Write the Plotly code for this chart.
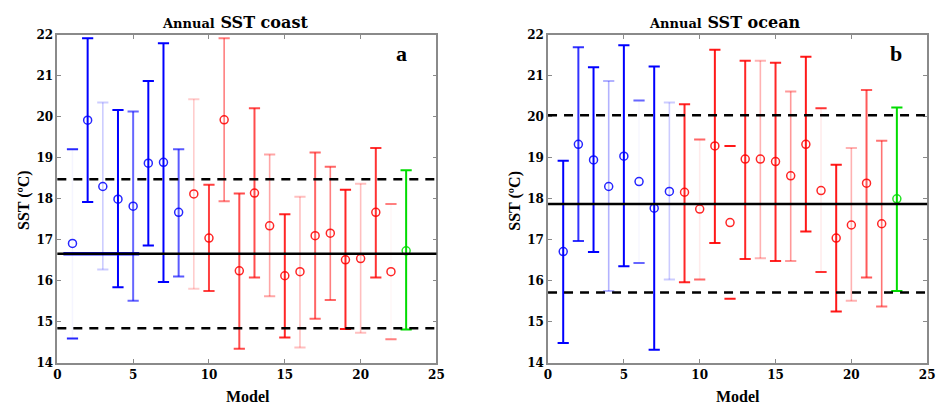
import plotly.graph_objects as go

models = list(range(1, 24))
group = ["blue"] * 8 + ["red"] * 14 + ["green"]

# ---- panel a: coast ----
coast_mean = [16.91, 19.92, 18.30, 17.99, 17.82, 18.87, 18.89, 17.67, 18.12, 17.04,
              19.93, 16.24, 18.14, 17.34, 16.12, 16.22, 17.10, 17.16, 16.51, 16.54,
              17.67, 16.22, 16.73]
coast_hi = [19.21, 21.92, 20.35, 20.17, 20.13, 20.88, 21.80, 19.21, 20.43, 18.34,
            21.92, 18.13, 20.21, 19.08, 17.62, 18.05, 19.13, 18.78, 18.22, 18.37,
            19.24, 17.87, 18.70]
coast_lo = [14.59, 17.92, 16.27, 15.84, 15.51, 16.86, 15.97, 16.10, 15.80, 15.75,
            17.94, 14.34, 16.08, 15.62, 14.61, 14.37, 15.07, 15.53, 14.82, 14.73,
            16.08, 14.57, 14.81]
coast_line_alpha = [0.04, 1.0, 0.2, 1.0, 0.6, 1.0, 1.0, 0.65, 0.2, 0.75,
                    0.5, 0.7, 0.7, 0.35, 0.85, 0.25, 0.6, 0.5, 0.85, 0.25,
                    0.8, 0.03, 1.0]
coast_cap_alpha = [0.85, 1.0, 0.2, 1.0, 0.6, 1.0, 1.0, 0.65, 0.2, 0.75,
                   0.5, 0.7, 0.7, 0.35, 0.85, 0.25, 0.6, 0.6, 0.9, 0.25,
                   0.8, 0.5, 1.0]
coast_ensemble = 16.66
coast_upper = 18.48
coast_lower = 14.84
coast_blue_seg = [0.4, 5.4]

# ---- panel b: ocean ----
ocean_mean = [16.71, 19.33, 18.95, 18.30, 19.04, 18.42, 17.77, 18.18, 18.16, 17.75,
              19.29, 17.42, 18.97, 18.97, 18.91, 18.56, 19.33, 18.20, 17.04, 17.36,
              18.38, 17.39, 18.00]
ocean_hi = [18.93, 21.70, 21.21, 20.88, 21.75, 20.40, 21.23, 20.35, 20.31, 19.45,
            21.64, 19.29, 21.37, 21.37, 21.32, 20.62, 21.47, 20.21, 18.83, 19.24,
            20.66, 19.42, 20.23]
ocean_lo = [14.48, 16.97, 16.70, 15.75, 16.35, 16.43, 14.31, 16.03, 15.96, 16.03,
            16.92, 15.56, 16.53, 16.55, 16.48, 16.48, 17.20, 16.21, 15.25, 15.51,
            16.08, 15.37, 15.75]
ocean_line_alpha = [1.0, 0.8, 1.0, 0.3, 1.0, 0.03, 1.0, 0.2, 0.85, 0.08,
                    0.9, 0.0, 0.85, 0.3, 0.85, 0.4, 0.9, 0.08, 0.9, 0.3,
                    0.65, 0.55, 1.0]
ocean_cap_alpha = [1.0, 0.8, 1.0, 0.3, 1.0, 0.6, 1.0, 0.2, 0.85, 0.6,
                   0.9, 0.9, 0.85, 0.3, 0.85, 0.4, 0.9, 0.8, 0.9, 0.3,
                   0.65, 0.55, 1.0]
ocean_ensemble = 17.87
ocean_upper = 20.04
ocean_lower = 15.71

x_ticks = [0, 5, 10, 15, 20, 25]
y_ticks = [14, 15, 16, 17, 18, 19, 20, 21, 22]

RGB = {"blue": (0, 0, 255), "red": (255, 0, 0), "green": (0, 220, 0)}


def rgba(name, a):
    r, g, b = RGB[name]
    return f"rgba({r},{g},{b},{a})"


fig = go.Figure()


def add_panel(mean, hi, lo, la, ca, xa, ya):
    for i, m in enumerate(models):
        c = group[i]
        # vertical bar
        fig.add_trace(go.Scatter(
            x=[m, m], y=[lo[i], hi[i]], mode="lines",
            line=dict(color=rgba(c, la[i]), width=2 if la[i] >= 0.6 else 1.6),
            xaxis=xa, yaxis=ya, showlegend=False, hoverinfo="skip"))
        # caps
        fig.add_trace(go.Scatter(
            x=[m, m], y=[lo[i], hi[i]], mode="markers",
            marker=dict(symbol="line-ew", size=8, color=rgba(c, ca[i]),
                        line=dict(color=rgba(c, ca[i]), width=2)),
            xaxis=xa, yaxis=ya, showlegend=False, hoverinfo="skip"))
        # mean circle
        fig.add_trace(go.Scatter(
            x=[m], y=[mean[i]], mode="markers",
            marker=dict(symbol="circle-open", size=8, color=rgba(c, 0.85),
                        line=dict(color=rgba(c, 0.85), width=1.5)),
            xaxis=xa, yaxis=ya, showlegend=False, hoverinfo="skip"))


add_panel(coast_mean, coast_hi, coast_lo, coast_line_alpha, coast_cap_alpha, "x", "y")
add_panel(ocean_mean, ocean_hi, ocean_lo, ocean_line_alpha, ocean_cap_alpha, "x2", "y2")

# blue segment beneath the ensemble line (panel a)
fig.add_trace(go.Scatter(x=coast_blue_seg, y=[coast_ensemble, coast_ensemble], mode="lines",
                         line=dict(color="rgba(0,0,255,0.9)", width=3.5),
                         xaxis="x", yaxis="y", showlegend=False, hoverinfo="skip"))

shapes = []
for xr, yr, ens, up, lw in [("x", "y", coast_ensemble, coast_upper, coast_lower),
                            ("x2", "y2", ocean_ensemble, ocean_upper, ocean_lower)]:
    shapes.append(dict(type="line", xref=f"{xr} domain", yref=yr, x0=0, x1=1, y0=ens, y1=ens,
                       line=dict(color="black", width=2.5)))
    for v in (up, lw):
        shapes.append(dict(type="line", xref=f"{xr} domain", yref=yr, x0=0, x1=1, y0=v, y1=v,
                           line=dict(color="black", width=2.5, dash="9px,7px")))

tickfont = dict(family="DejaVu Serif", size=12, color="black", weight="bold")
axis_common = dict(showgrid=False, zeroline=False, showline=True, linecolor="#8a8a8a",
                   linewidth=1.5, mirror="ticks", ticks="inside", ticklen=4,
                   tickcolor="#8a8a8a", tickfont=tickfont)

W, H = 950, 414
left_dom = [54 / W, 438 / W]
right_dom = [551 / W, 935 / W]
y_dom = [1 - 368 / H, 1 - 29 / H]

fig.update_layout(
    width=W, height=H,
    margin=dict(l=0, r=0, t=0, b=0),
    paper_bgcolor="white", plot_bgcolor="white",
    shapes=shapes,
    xaxis=dict(domain=left_dom, range=[0, 25], tickvals=x_ticks, anchor="y", **axis_common),
    yaxis=dict(domain=y_dom, range=[14, 22], tickvals=y_ticks, anchor="x", **axis_common),
    xaxis2=dict(domain=right_dom, range=[0, 25], tickvals=x_ticks, anchor="y2", **axis_common),
    yaxis2=dict(domain=y_dom, range=[14, 22], tickvals=y_ticks, anchor="x2", **axis_common),
)

ann_font = dict(family="Liberation Serif", color="black", weight="bold")
title_font = dict(family="DejaVu Serif", color="black", weight="bold")
annotations = [
    dict(text="<span style='font-size:13px'>Annual</span> SST coast", x=234 / W, y=1 - 16 / H,
         font=dict(size=16, **title_font)),
    dict(text="<span style='font-size:13px'>Annual</span> SST ocean", x=730 / W, y=1 - 16 / H,
         font=dict(size=16, **title_font)),
    dict(text="a", x=403 / W, y=1 - 48 / H, font=dict(size=22, **ann_font)),
    dict(text="b", x=903 / W, y=1 - 48 / H, font=dict(size=22, **ann_font)),
    dict(text="Model", x=247 / W, y=1 - 403 / H, font=dict(size=16, **ann_font)),
    dict(text="Model", x=743 / W, y=1 - 403 / H, font=dict(size=16, **ann_font)),
    dict(text="SST (ºC)", x=21 / W, y=1 - 200 / H, textangle=-90, font=dict(size=16, **ann_font)),
    dict(text="SST (ºC)", x=518 / W, y=1 - 200 / H, textangle=-90, font=dict(size=16, **ann_font)),
]
for a in annotations:
    a.update(xref="paper", yref="paper", showarrow=False, xanchor="center", yanchor="middle")
fig.update_layout(annotations=annotations)

fig.write_html("out.html", config={"displayModeBar": False},
               post_script="document.body.style.margin='0';")
